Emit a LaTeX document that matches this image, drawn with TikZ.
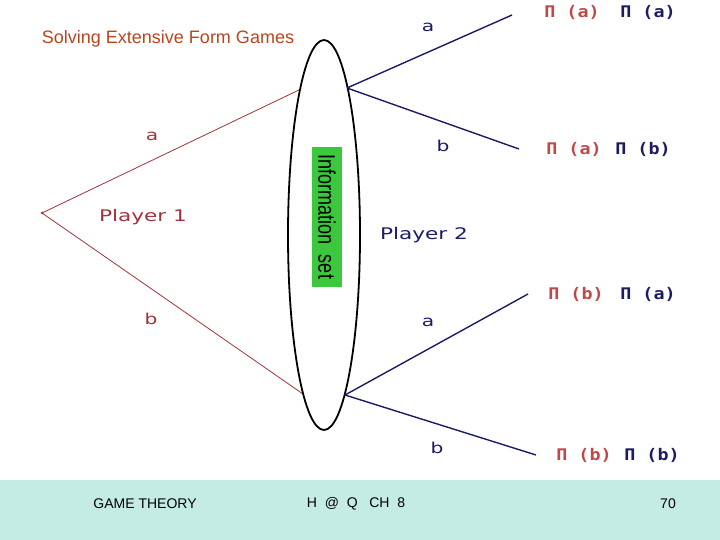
\documentclass[tikz,border=0pt]{standalone}
\usepackage{fontspec}
\setmainfont{Liberation Sans}
\newfontfamily\labelfont[FakeStretch=1.35]{DejaVu Sans}
\newfontfamily\payfont[FakeStretch=1.15]{DejaVu Sans Mono Bold}
\newfontfamily\setfont[FakeStretch=0.75]{Liberation Sans}
\definecolor{titlered}{HTML}{B8461E}
\definecolor{pone}{HTML}{A3333B}
\definecolor{payred}{HTML}{C04848}
\definecolor{ptwo}{HTML}{1C1C64}
\definecolor{setgreen}{HTML}{3CC83C}
\definecolor{footerbg}{HTML}{C5ECE4}
\usetikzlibrary{shapes.geometric,positioning}
\tikzset{
  moveone/.style={draw=pone, line width=0.8pt},
  movetwo/.style={draw=ptwo, line width=1.4pt},
  lblone/.style={font=\labelfont\fontsize{15}{15}\selectfont, text=pone, inner sep=0pt},
  lbltwo/.style={font=\labelfont\fontsize{15}{15}\selectfont, text=ptwo, inner sep=0pt},
  payoff/.style={font=\payfont\fontsize{16}{16}\selectfont, inner sep=0pt},
  infoset/.style={
    ellipse, draw=black, line width=1.8pt,
    minimum width=72pt, minimum height=390pt, inner sep=0pt
  },
  setbox/.style={
    rectangle, fill=setgreen, rotate=-90,
    minimum width=140pt, minimum height=30pt, inner sep=0pt,
    font=\setfont\fontsize{24}{24}\selectfont
  },
  foot/.style={font=\fontsize{14}{14}\selectfont, inner sep=0pt},
}

\begin{document}
\begin{tikzpicture}[x=1pt, y=-1pt]

  \useasboundingbox (0,0) rectangle (720,540);

  % ── Footer band ───────────────────────────────────────────────────────────────
  \fill[footerbg] (0,480) rectangle (720,540);
  \node[foot] (ft1) at (145,504) {GAME THEORY};
  \node[foot] (ft2) at (356,504) {H\ \ @\ \ Q\ \ \ CH\ \ 8};
  \node[foot] (ft3) at (668,504) {70};

  % ── Title ─────────────────────────────────────────────────────────────────────
  \node[font=\fontsize{18}{18}\selectfont, text=titlered, inner sep=0pt]
    (title) at (168,39) {Solving Extensive Form Games};

  % ── Decision points ───────────────────────────────────────────────────────────
  \coordinate (P1)  at (42,213);
  \coordinate (P2a) at (301,89);
  \coordinate (P2b) at (303,394);
  \coordinate (P2ar) at (347,88);
  \coordinate (P2br) at (345,395);
  \coordinate (Laa) at (512,15);
  \coordinate (Lab) at (519,149);
  \coordinate (Lba) at (528,294);
  \coordinate (Lbb) at (536,455);

  % ════════════════════════════════════════════════════════════════════════════
  % Player 1 moves
  % ════════════════════════════════════════════════════════════════════════════
  \draw[moveone] (P1) -- (P2a);
  \draw[moveone] (P1) -- (P2b);
  \fill[pone] (P1) circle (1.5pt);
  \node[lblone] (m1a) at (152,136) {a};
  \node[lblone] (m1b) at (151,319) {b};
  \node[lblone, font=\labelfont\fontsize{16}{16}\selectfont] (pl1) at (143,217) {Player 1};

  % ════════════════════════════════════════════════════════════════════════════
  % Information set
  % ════════════════════════════════════════════════════════════════════════════
  \node[infoset] (info) at (324,235) {};
  \node[setbox] (setlbl) at (327,217) {Information\ \ set};

  % ════════════════════════════════════════════════════════════════════════════
  % Player 2 moves
  % ════════════════════════════════════════════════════════════════════════════
  \draw[movetwo] (P2ar) -- (Laa);
  \draw[movetwo] (P2ar) -- (Lab);
  \draw[movetwo] (P2br) -- (Lba);
  \draw[movetwo] (P2br) -- (Lbb);
  \node[lbltwo] (m2aa) at (428,27) {a};
  \node[lbltwo] (m2ab) at (443,146) {b};
  \node[lbltwo] (m2ba) at (428,322) {a};
  \node[lbltwo] (m2bb) at (437,448) {b};
  \node[lbltwo, font=\labelfont\fontsize{16}{16}\selectfont] (pl2) at (424,235) {Player 2};

  % ── Payoffs ───────────────────────────────────────────────────────────────────
  \node[payoff, text=payred] (paa1) at (572,12)  {Π (a)};
  \node[payoff, text=ptwo]   (paa2) at (648,12)  {Π (a)};
  \node[payoff, text=payred] (pab1) at (574,149) {Π (a)};
  \node[payoff, text=ptwo]   (pab2) at (643,149) {Π (b)};
  \node[payoff, text=payred] (pba1) at (576,294) {Π (b)};
  \node[payoff, text=ptwo]   (pba2) at (648,294) {Π (a)};
  \node[payoff, text=payred] (pbb1) at (584,455) {Π (b)};
  \node[payoff, text=ptwo]   (pbb2) at (652,455) {Π (b)};

\end{tikzpicture}
\end{document}
